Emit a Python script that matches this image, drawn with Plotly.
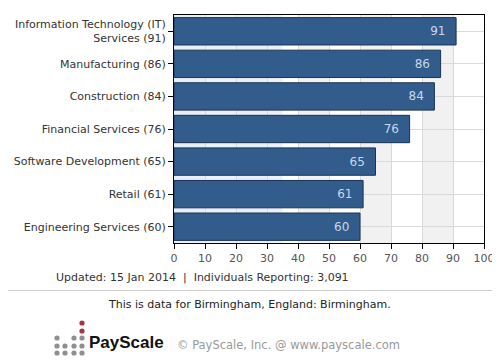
import plotly.graph_objects as go

categories = [
    "Information Technology (IT)<br>Services (91)",
    "Manufacturing (86)",
    "Construction (84)",
    "Financial Services (76)",
    "Software Development (65)",
    "Retail (61)",
    "Engineering Services (60)",
]
values = [91, 86, 84, 76, 65, 61, 60]
x_ticks = [0, 10, 20, 30, 40, 50, 60, 70, 80, 90, 100]

updated_text = "Updated: 15 Jan 2014  |  Individuals Reporting: 3,091"
location_text = "This is data for Birmingham, England: Birmingham."
copyright_text = "© PayScale, Inc. @ www.payscale.com"

FONT = "DejaVu Sans, Verdana, sans-serif"

# page body has an 8px margin; lay out in window pixels and shift
OFF = 8
W, H = 500 - OFF, 360 - OFF
ml = 174 - OFF
mt = 15 - OFF
mr = W - (484 - OFF)
mb = H - (243 - OFF)
pw, ph = W - ml - mr, H - mt - mb


def px2paper(px, py):
    # px, py in window pixels
    fx, fy = px - OFF, py - OFF
    return (fx - ml) / pw, (H - mb - fy) / ph


fig = go.Figure()
fig.add_trace(go.Bar(
    x=values,
    y=categories,
    orientation="h",
    marker=dict(color="#325c8c", line=dict(color="#1b3355", width=1)),
    text=values,
    texttemplate="%{x}\u00a0\u00a0",
    textposition="inside",
    insidetextanchor="end",
    textfont=dict(color="#c9d7ea", size=12, family=FONT),
    hoverinfo="skip",
))

shapes = []
for a, b in [(0, 10), (20, 30), (40, 50), (60, 70), (80, 90)]:
    shapes.append(dict(type="rect", xref="x", yref="paper", x0=a, x1=b, y0=0, y1=1,
                       fillcolor="#f1f1f1", line=dict(width=0), layer="below"))
shapes.append(dict(type="rect", xref="x", yref="paper", x0=0, x1=35, y0=0, y1=1,
                   fillcolor="#e6edf6", opacity=0.8, line=dict(width=0), layer="below"))

# divider line
lx0, ly = px2paper(OFF, 290.5)
lx1, _ = px2paper(496, 290.5)
shapes.append(dict(type="line", xref="paper", yref="paper", x0=lx0, x1=lx1,
                   y0=ly, y1=ly, line=dict(color="#cccccc", width=1)))

# PayScale logo dots (decorative)
dot_cols = [57, 65, 74, 82]
dot_rows = [338, 346, 353]
dots = []
for ci, cx in enumerate(dot_cols):
    for ri, cy in enumerate(dot_rows):
        if ci == 1 and ri == 0:
            continue
        dots.append((cx, cy, "#8f8f8f"))
dots.append((82, 323, "#a8323f"))
dots.append((82, 331, "#a8323f"))
r = 2.6
for cx, cy, col in dots:
    x0, y0 = px2paper(cx - r, cy + r)
    x1, y1 = px2paper(cx + r, cy - r)
    shapes.append(dict(type="circle", xref="paper", yref="paper", x0=x0, x1=x1, y0=y0, y1=y1,
                       fillcolor=col, line=dict(width=0)))

annotations = []


def ann(text, px, py, size, color, xanchor="left", family=FONT, bold=False):
    x, y = px2paper(px, py)
    if bold:
        text = "<b>" + text + "</b>"
    annotations.append(dict(text=text, x=x, y=y, xref="paper", yref="paper",
                            xanchor=xanchor, yanchor="middle", showarrow=False,
                            font=dict(size=size, color=color, family=family)))


ann(updated_text, 54, 277, 11, "#333333")
ann(location_text, 249, 304, 11, "#222222", xanchor="center")
ann("PayScale", 87, 342, 17, "#111111", family="Liberation Sans, Arial, sans-serif", bold=True)
ann(copyright_text, 175, 345, 11.5, "#999999")

fig.update_layout(
    width=W, height=H,
    margin=dict(l=ml, r=mr, t=mt, b=mb, pad=0, autoexpand=False),
    paper_bgcolor="white",
    plot_bgcolor="white",
    showlegend=False,
    bargap=0.16,
    font=dict(family=FONT, size=11, color="#333333"),
    shapes=shapes,
    annotations=annotations,
)
fig.update_xaxes(
    range=[0, 100], tickvals=x_ticks, ticktext=[str(t) for t in x_ticks],
    showgrid=True, gridcolor="#d9d9d9", gridwidth=1,
    ticks="outside", ticklen=5, tickcolor="#000000",
    showline=True, linecolor="#000000", linewidth=1, mirror=True,
    tickfont=dict(size=11, color="#555555", family=FONT),
    zeroline=False, fixedrange=True,
)
fig.update_yaxes(
    autorange="reversed",
    showgrid=True, gridcolor="#d9d9d9", gridwidth=1,
    ticks="outside", ticklen=5, tickcolor="#000000",
    showline=True, linecolor="#000000", linewidth=1, mirror=True,
    tickfont=dict(size=11, color="#333333", family=FONT),
    fixedrange=True,
)

fig.write_html("out.html")
